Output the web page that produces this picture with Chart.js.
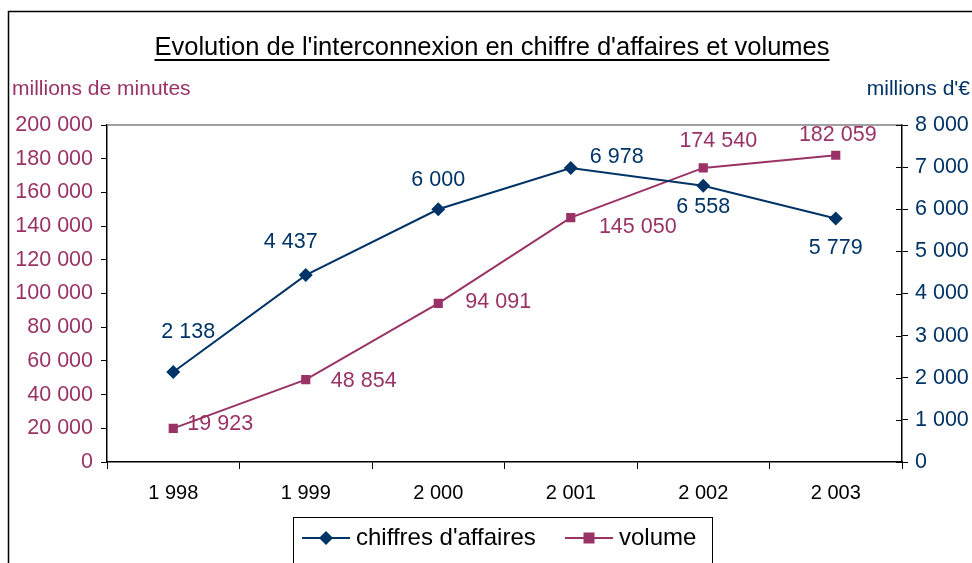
<!DOCTYPE html>
<html>
<head>
<meta charset="utf-8">
<script src="https://cdn.jsdelivr.net/npm/chart.js@4.4.1/dist/chart.umd.min.js"></script>
<style>
  html, body { margin: 0; padding: 0; background: #fff; }
  #wrap { width: 972px; height: 563px; }
</style>
</head>
<body>
<div id="wrap"><canvas id="chart" width="972" height="563"></canvas></div>
<script>
// data
const years = [1998, 1999, 2000, 2001, 2002, 2003];
const chiffresAffaires = [2138, 4437, 6000, 6978, 6558, 5779]; // millions d'€ (right axis)
const volume = [19923, 48854, 94091, 145050, 174540, 182059]; // millions de minutes (left axis)
const leftMax = 200000, leftStep = 20000;
const rightMax = 8000, rightStep = 1000;

const titleText = "Evolution de l'interconnexion en chiffre d'affaires et volumes";
const leftTitle = "millions de minutes";
const rightTitle = "millions d'€";

const navy = "#003366";
const maroon = "#993366";
const FONT = "'Liberation Sans', Arial, sans-serif";

// label offsets from each point (dx, dy), style only
const caOffsets = [[15, -40], [-15, -33], [0, -29], [46, -11], [0, 21], [0, 30]];
const volOffsets = [[47, -4], [58, 1], [60, -1], [67, 9], [15, -27], [2, -20]];

const fmt = v => String(v).replace(/\B(?=(\d{3})+(?!\d))/g, " ");

const decor = {
  id: "decor",
  beforeDraw(c) {
    const ctx = c.ctx;
    ctx.save();
    ctx.fillStyle = "#fff";
    ctx.fillRect(0, 0, c.width, c.height);
    ctx.restore();
  },
  afterDraw(c) {
    const ctx = c.ctx;
    const a = c.chartArea;
    ctx.save();

    // outer frame
    ctx.strokeStyle = "#000";
    ctx.lineWidth = 1.5;
    ctx.beginPath();
    ctx.moveTo(8.5, 600);
    ctx.lineTo(8.5, 11.5);
    ctx.lineTo(980, 11.5);
    ctx.stroke();

    // top of plot area
    ctx.strokeStyle = "#808080";
    ctx.lineWidth = 1.5;
    ctx.beginPath();
    ctx.moveTo(a.left, a.top);
    ctx.lineTo(a.right, a.top);
    ctx.stroke();

    // inner half of right axis ticks
    const r = c.scales.y1;
    ctx.strokeStyle = "#000";
    ctx.lineWidth = 1;
    r.ticks.forEach(t => {
      const y = Math.round(r.getPixelForValue(t.value)) + 0.5;
      ctx.beginPath();
      ctx.moveTo(a.right - 6, y);
      ctx.lineTo(a.right, y);
      ctx.stroke();
    });

    // title, underlined
    ctx.fillStyle = "#000";
    ctx.font = "25.5px " + FONT;
    ctx.textAlign = "center";
    ctx.textBaseline = "alphabetic";
    const tx = 492;
    ctx.fillText(titleText, tx, 55);
    const tw = ctx.measureText(titleText).width;
    ctx.lineWidth = 2;
    ctx.beginPath();
    ctx.moveTo(tx - tw / 2, 60);
    ctx.lineTo(tx + tw / 2, 60);
    ctx.stroke();

    // axis titles
    ctx.font = "21px " + FONT;
    ctx.textBaseline = "middle";
    ctx.textAlign = "left";
    ctx.fillStyle = maroon;
    ctx.fillText(leftTitle, 12, 89);
    ctx.textAlign = "right";
    ctx.fillStyle = navy;
    ctx.fillText(rightTitle, 970, 89);

    // data labels
    ctx.font = "21.5px " + FONT;
    ctx.textAlign = "center";
    const sets = [[0, caOffsets, navy], [1, volOffsets, maroon]];
    sets.forEach(([i, offs, col]) => {
      const meta = c.getDatasetMeta(i);
      ctx.fillStyle = col;
      meta.data.forEach((pt, j) => {
        const v = c.data.datasets[i].data[j];
        ctx.fillText(fmt(v), pt.x + offs[j][0], pt.y + offs[j][1]);
      });
    });

    // legend with frame
    const lx = 293.5, ly = 517.5, lw = 419, lh = 50;
    ctx.strokeStyle = "#000";
    ctx.lineWidth = 1;
    ctx.strokeRect(lx, ly, lw, lh);
    const items = [
      { x: 302, text: c.data.datasets[0].label, col: navy, style: "diamond" },
      { x: 565, text: c.data.datasets[1].label, col: maroon, style: "square" }
    ];
    const my = 538;
    items.forEach(it => {
      ctx.strokeStyle = it.col;
      ctx.fillStyle = it.col;
      ctx.lineWidth = 2;
      ctx.beginPath();
      ctx.moveTo(it.x, my);
      ctx.lineTo(it.x + 48, my);
      ctx.stroke();
      const cx = it.x + 24;
      ctx.beginPath();
      if (it.style === "diamond") {
        ctx.moveTo(cx, my - 7); ctx.lineTo(cx + 7, my);
        ctx.lineTo(cx, my + 7); ctx.lineTo(cx - 7, my);
        ctx.closePath();
      } else {
        ctx.rect(cx - 5.5, my - 5.5, 11, 11);
      }
      ctx.fill();
      ctx.fillStyle = "#000";
      ctx.font = "24px " + FONT;
      ctx.textAlign = "left";
      ctx.textBaseline = "middle";
      ctx.fillText(it.text, it.x + 54, my);
    });

    ctx.restore();
  }
};

new Chart(document.getElementById("chart"), {
  type: "line",
  data: {
    labels: years.map(fmt),
    datasets: [
      {
        label: "chiffres d'affaires",
        data: chiffresAffaires,
        yAxisID: "y1",
        borderColor: navy,
        backgroundColor: navy,
        borderWidth: 2,
        pointStyle: "rectRot",
        pointRadius: 7,
        pointBorderWidth: 0,
        tension: 0
      },
      {
        label: "volume",
        data: volume,
        yAxisID: "y",
        borderColor: maroon,
        backgroundColor: maroon,
        borderWidth: 2,
        pointStyle: "rect",
        pointRadius: 6.5,
        pointBorderWidth: 0,
        tension: 0
      }
    ]
  },
  options: {
    responsive: false,
    animation: false,
    layout: { padding: { top: 125, left: 0, right: 0, bottom: 0 } },
    plugins: {
      legend: { display: false },
      title: { display: false },
      tooltip: { enabled: false }
    },
    scales: {
      x: {
        offset: true,
        grid: { offset: true, drawOnChartArea: false, tickLength: 7, color: "#000" },
        border: { color: "#000", width: 1.5 },
        ticks: { color: "#000", font: { family: FONT, size: 20 }, padding: 12 },
        afterFit: s => { s.height = 101; }
      },
      y: {
        position: "left",
        min: 0,
        max: leftMax,
        ticks: { stepSize: leftStep, color: maroon, font: { family: FONT, size: 21.5 }, padding: 8, callback: v => fmt(v) },
        grid: { drawOnChartArea: false, tickLength: 6, color: "#000" },
        border: { color: "#000", width: 1.5 },
        afterFit: s => { s.width = 107; }
      },
      y1: {
        position: "right",
        min: 0,
        max: rightMax,
        ticks: { stepSize: rightStep, color: navy, font: { family: FONT, size: 21.5 }, padding: 7, callback: v => fmt(v) },
        grid: { drawOnChartArea: false, tickLength: 6, color: "#000" },
        border: { color: "#000", width: 1.5 },
        afterFit: s => { s.width = 70; }
      }
    }
  },
  plugins: [decor]
});
</script>
</body>
</html>
